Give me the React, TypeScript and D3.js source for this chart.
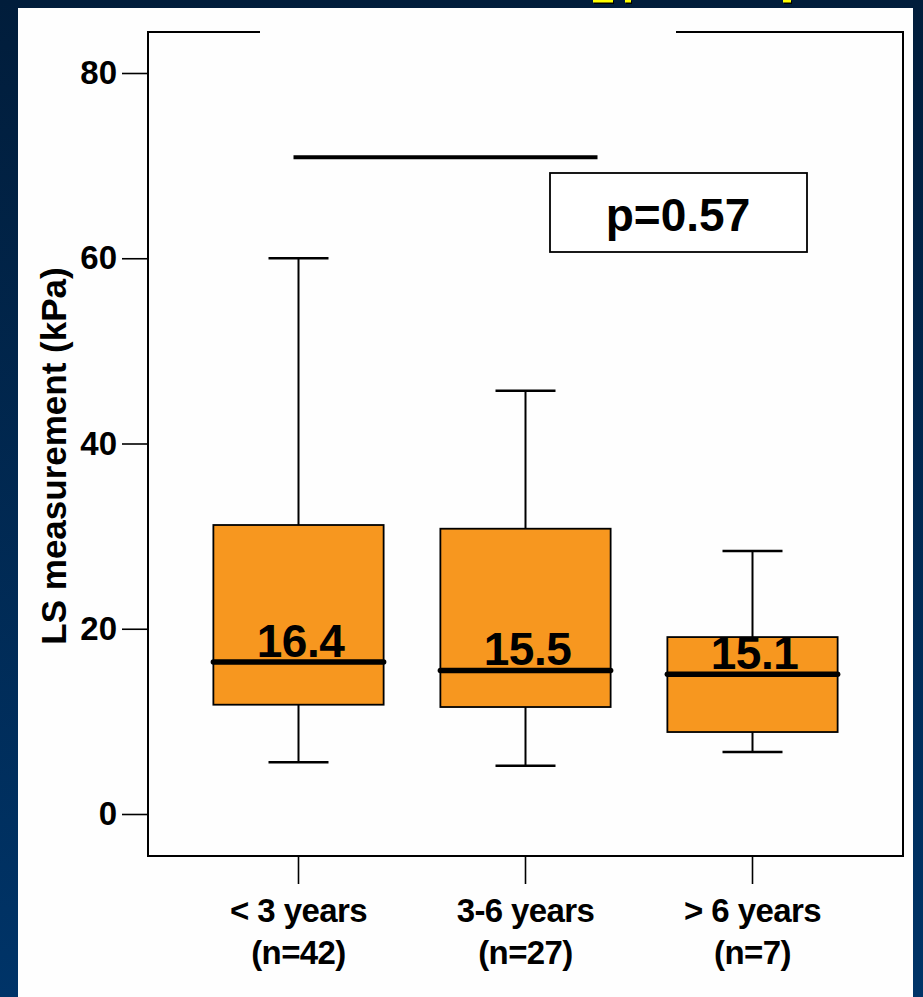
import React, { useRef, useEffect } from 'react';
import * as d3 from 'd3';

// data
const groups = ['< 3 years', '3-6 years', '> 6 years'];
const groupN = ['(n=42)', '(n=27)', '(n=7)'];
const mins = [5.6, 5.2, 6.7];
const q1s = [11.8, 11.55, 8.85];
const medians = [16.4, 15.5, 15.1];
const q3s = [31.2, 30.8, 19.1];
const maxs = [60, 45.7, 28.4];
const yTicks = [0, 20, 40, 60, 80];
const sigLevel = 70.9;
const pLabel = 'p=0.57';

const W = 923;
const H = 997;
const FONT = '"Liberation Sans", Arial, sans-serif';

const App = () => {
  const svgRef = useRef(null);

  useEffect(() => {
    const svg = d3.select(svgRef.current);
    svg.selectAll('*').remove();

    const frame = { left: 148, right: 903, top: 32, bottom: 856 };

    // background slide
    const grad = svg.append('defs').append('linearGradient')
      .attr('id', 'bg').attr('x1', 0).attr('y1', 0).attr('x2', 0).attr('y2', 1);
    grad.append('stop').attr('offset', '0%').attr('stop-color', '#011d3b');
    grad.append('stop').attr('offset', '100%').attr('stop-color', '#003468');
    svg.append('rect').attr('width', W).attr('height', H).attr('fill', 'url(#bg)');
    svg.append('rect').attr('x', 18).attr('y', 8).attr('width', 895).attr('height', H - 8).attr('fill', '#fefefe');

    // bits of the cut-off yellow title
    const bits = [[593, 613], [625, 631], [783, 791]];
    bits.forEach(([a, b]) => {
      svg.append('rect').attr('x', a + 1).attr('y', 1).attr('width', b - a).attr('height', 3).attr('fill', '#000');
      svg.append('rect').attr('x', a).attr('y', 0).attr('width', b - a).attr('height', 2.5).attr('fill', '#ffff00');
    });

    const y = d3.scaleLinear().domain([0, 80]).range([814, 73]);
    const x = d3.scaleBand()
      .domain(groups)
      .range([frame.left, frame.right])
      .paddingInner(0.25)
      .paddingOuter(0.288);
    const cx = (g) => x(g) + x.bandwidth() / 2;

    // frame, with a gap in the top edge
    svg.append('path')
      .attr('d', `M260,${frame.top}H${frame.left}V${frame.bottom}H${frame.right}V${frame.top}H676`)
      .attr('fill', 'none')
      .attr('stroke', '#000')
      .attr('stroke-width', 2);

    // y axis
    const yAxis = svg.append('g')
      .attr('transform', `translate(${frame.left},0)`)
      .call(d3.axisLeft(y).tickValues(yTicks).tickSize(26).tickPadding(5));
    yAxis.select('.domain').remove();
    yAxis.selectAll('line').attr('stroke-width', 1.6);
    yAxis.selectAll('text')
      .attr('font-family', FONT)
      .attr('font-weight', 'bold')
      .attr('font-size', 33)
      .attr('fill', '#000');

    svg.append('text')
      .attr('transform', `translate(66,456) rotate(-90)`)
      .attr('text-anchor', 'middle')
      .attr('font-family', FONT)
      .attr('font-weight', 'bold')
      .attr('font-size', 35)
      .text('LS measurement (kPa)');

    // x axis
    const xAxis = svg.append('g')
      .attr('transform', `translate(0,${frame.bottom})`)
      .call(d3.axisBottom(x).tickSize(28).tickFormat(() => ''));
    xAxis.select('.domain').remove();
    xAxis.selectAll('line').attr('stroke-width', 1.6);

    groups.forEach((g, i) => {
      const t = svg.append('text')
        .attr('text-anchor', 'middle')
        .attr('font-family', FONT)
        .attr('font-weight', 'bold')
        .attr('font-size', 33)
        .attr('letter-spacing', -0.6);
      t.append('tspan').attr('x', cx(g)).attr('y', 922).text(g);
      t.append('tspan').attr('x', cx(g)).attr('y', 964).text(groupN[i]);
    });

    // boxes
    const capHalf = 30;
    groups.forEach((g, i) => {
      const c = cx(g);
      const gg = svg.append('g');
      gg.append('line')
        .attr('x1', c).attr('x2', c).attr('y1', y(maxs[i])).attr('y2', y(mins[i]))
        .attr('stroke', '#000').attr('stroke-width', 2);
      [maxs[i], mins[i]].forEach((v) => {
        gg.append('line')
          .attr('x1', c - capHalf).attr('x2', c + capHalf)
          .attr('y1', y(v)).attr('y2', y(v))
          .attr('stroke', '#000').attr('stroke-width', 2.5);
      });
      gg.append('rect')
        .attr('x', x(g))
        .attr('y', y(q3s[i]))
        .attr('width', x.bandwidth())
        .attr('height', y(q1s[i]) - y(q3s[i]))
        .attr('fill', '#f7971f')
        .attr('stroke', '#000')
        .attr('stroke-width', 1.8);
      gg.append('text')
        .attr('x', c + 2)
        .attr('y', y(medians[i]) - 5)
        .attr('text-anchor', 'middle')
        .attr('font-family', FONT)
        .attr('font-weight', 'bold')
        .attr('font-size', 46)
        .attr('letter-spacing', -0.5)
        .text(medians[i].toFixed(1));
      gg.append('line')
        .attr('x1', x(g)).attr('x2', x(g) + x.bandwidth())
        .attr('y1', y(medians[i])).attr('y2', y(medians[i]))
        .attr('stroke', '#000').attr('stroke-width', 5.5)
        .attr('stroke-linecap', 'round');
    });

    // significance bar and p-value box
    svg.append('line')
      .attr('x1', cx(groups[0]) - 5).attr('x2', cx(groups[1]) + 72)
      .attr('y1', y(sigLevel)).attr('y2', y(sigLevel))
      .attr('stroke', '#000').attr('stroke-width', 4);

    svg.append('rect')
      .attr('x', 550).attr('y', 173).attr('width', 257).attr('height', 79)
      .attr('fill', '#fff').attr('stroke', '#000').attr('stroke-width', 1.8);
    svg.append('text')
      .attr('x', 678).attr('y', 231)
      .attr('text-anchor', 'middle')
      .attr('font-family', FONT)
      .attr('font-weight', 'bold')
      .attr('font-size', 46)
      .text(pLabel);
  }, []);

  return (
    <svg
      ref={svgRef}
      width={W}
      height={H}
      style={{ position: 'absolute', left: 0, top: 0, display: 'block' }}
    />
  );
};

export default App;
